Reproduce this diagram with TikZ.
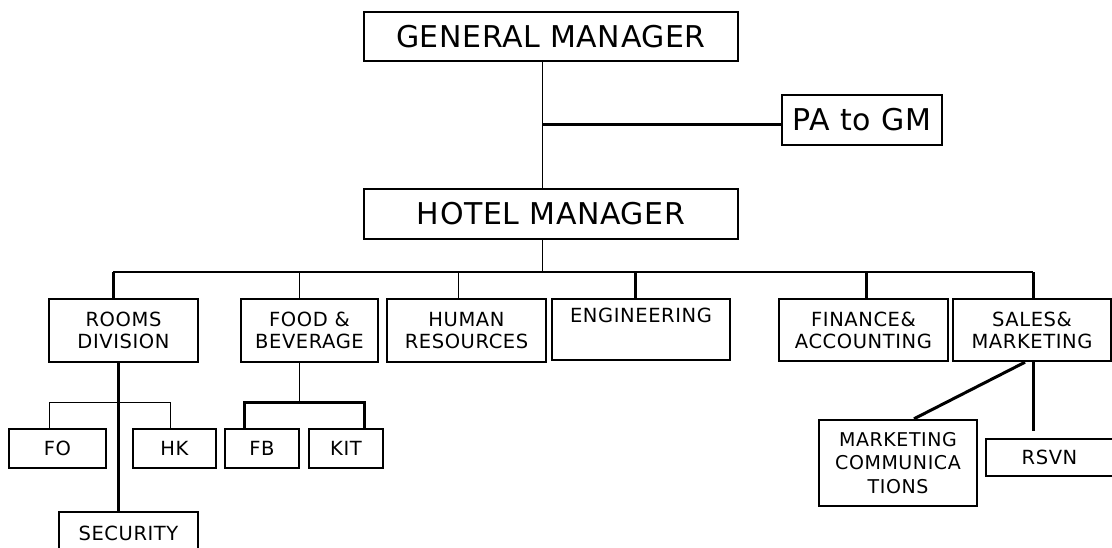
\documentclass[tikz,border=0pt]{standalone}
\usepackage{fontspec}
\setmainfont{DejaVu Sans}
\usetikzlibrary{calc}

\begin{document}
\begin{tikzpicture}[x=1pt,y=-1pt,
    box/.style={draw,line width=2.4pt,fill=white,inner sep=0pt,align=center},
    big/.style={box,font=\fontsize{30}{35}\selectfont\addfontfeatures{LetterSpace=2}},
    small/.style={box,font=\fontsize{19.5}{22}\selectfont\addfontfeatures{LetterSpace=3}},
    thin/.style={line width=1pt},
    mid/.style={line width=1.6pt},
    fat/.style={line width=3pt}]
      \useasboundingbox (0,0) rectangle (1112,547);

      \node[big,minimum width=374pt,minimum height=49pt] (gm) at (551,36.5) {GENERAL MANAGER};
      \node[big,minimum width=160pt,minimum height=50pt] (pa) at (862,120) {PA to GM};
      \node[big,minimum width=374pt,minimum height=50pt] (hm) at (551,214) {HOTEL MANAGER};

      \node[small,minimum width=149pt,minimum height=63pt] (rooms) at (123.5,330.5) {ROOMS\\DIVISION};
      \node[small,minimum width=137pt,minimum height=63pt] (food) at (309.5,330.5) {FOOD \&\\BEVERAGE};
      \node[small,minimum width=159pt,minimum height=63pt] (hr) at (466.5,330.5) {HUMAN\\RESOURCES};
      \node[small,minimum width=178pt,minimum height=61pt] (eng) at (641,329.5) {ENGINEERING\\\strut};
      \node[small,minimum width=169pt,minimum height=62pt] (fin) at (863.5,330) {FINANCE\&\\ACCOUNTING};
      \node[small,minimum width=158pt,minimum height=62pt] (sales) at (1032,330) {SALES\&\\MARKETING};

      \node[small,minimum width=97pt,minimum height=39pt] (fo) at (57.5,448.5) {FO};
      \node[small,minimum width=83pt,minimum height=39pt] (hk) at (174.5,448.5) {HK};
      \node[small,minimum width=74pt,minimum height=39pt] (fb) at (262,448.5) {FB};
      \node[small,minimum width=74pt,minimum height=39pt] (kit) at (346,448.5) {KIT};
      \node[small,minimum width=139pt,minimum height=42pt] (sec) at (128.5,533) {SECURITY};
      \node[small,minimum width=158pt,minimum height=86pt,
        font=\fontsize{19}{23.5}\selectfont\addfontfeatures{LetterSpace=3}] (mc) at (898,463) {MARKETING\\COMMUNICA\\TIONS};
      \node[small,minimum width=127pt,minimum height=37pt] (rsvn) at (1049.5,457.5) {RSVN};

      \coordinate (spine) at (542,124);
      \draw[thin] (gm.south -| spine) -- (hm.north -| spine);
      \draw[fat] (spine) -- (spine -| pa.west);

      \foreach \n/\x/\w in {rooms/113/fat,food/299/thin,hr/458/thin,eng/635/fat,fin/866/fat,sales/1033/fat}{
        \coordinate (\n-up) at (\x,272);
        \draw[\w] (\n-up) -- (\n-up |- \n.north);
      }
      \draw[mid] (rooms-up) -- (sales-up);
      \draw[thin] (hm.south -| spine) -- (spine |- rooms-up);

      \coordinate (rd) at (118,402);
      \coordinate (fo-up) at (49,402);
      \coordinate (hk-up) at (170,402);
      \draw[thin] (fo.north -| fo-up) -- (fo-up) -- (hk-up) -- (hk.north -| hk-up);
      \draw[fat] (rooms.south -| rd) -- (sec.north -| rd);

      \coordinate (fd) at (299,402);
      \coordinate (fb-up) at (244,402);
      \coordinate (kit-up) at (364,402);
      \draw[thin] (food.south -| fd) -- (fd);
      \draw[fat] (fb.north -| fb-up) -- (fb-up) -- (kit-up) -- (kit.north -| kit-up);

      \coordinate (rs) at (1033,431);
      \draw[fat] ([xshift=-7pt]sales.south) -- ([xshift=16pt]mc.north);
      \draw[fat] (sales.south -| rs) -- (rs);
\end{tikzpicture}
\end{document}
